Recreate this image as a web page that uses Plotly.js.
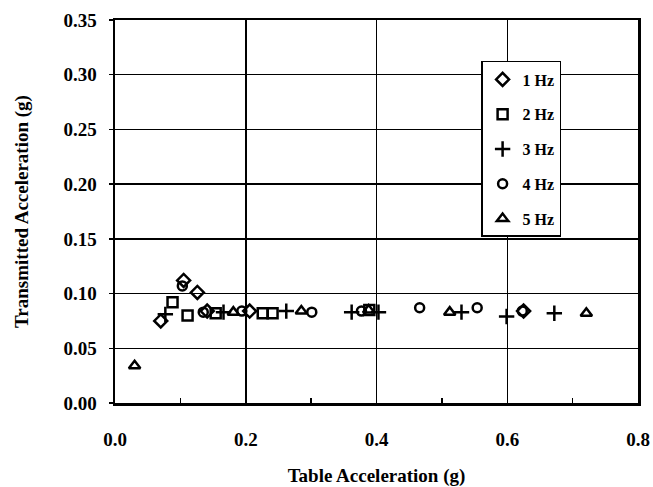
<!DOCTYPE html>
<html>
<head>
<meta charset="utf-8">
<script src="https://cdn.plot.ly/plotly-3.0.1.min.js"></script>
<style>
  html, body { margin: 0; padding: 0; background: #ffffff; }
  #chart { width: 653px; height: 487px; }
</style>
</head>
<body>
<div id="chart"></div>
<script>
// Transmitted vs. table acceleration, one series per excitation frequency
const seriesNames = ["1 Hz", "2 Hz", "3 Hz", "4 Hz", "5 Hz"];

const hz1X = [0.070, 0.105, 0.126, 0.141, 0.206, 0.625];
const hz1Y = [0.075, 0.112, 0.101, 0.084, 0.084, 0.084];

const hz2X = [0.088, 0.111, 0.154, 0.226, 0.241, 0.389];
const hz2Y = [0.092, 0.080, 0.082, 0.082, 0.082, 0.085];

const hz3X = [0.077, 0.166, 0.262, 0.362, 0.403, 0.530, 0.599, 0.672];
const hz3Y = [0.081, 0.083, 0.084, 0.083, 0.083, 0.083, 0.079, 0.082];

const hz4X = [0.103, 0.135, 0.194, 0.301, 0.377, 0.466, 0.554, 0.623];
const hz4Y = [0.107, 0.083, 0.084, 0.083, 0.084, 0.087, 0.087, 0.084];

const hz5X = [0.030, 0.181, 0.285, 0.388, 0.512, 0.721];
const hz5Y = [0.034, 0.083, 0.084, 0.085, 0.083, 0.082];

const xTickVals = [0.0, 0.2, 0.4, 0.6, 0.8];
const xTickText = ["0.0", "0.2", "0.4", "0.6", "0.8"];
const yTickVals = [0.00, 0.05, 0.10, 0.15, 0.20, 0.25, 0.30, 0.35];
const yTickText = ["0.00", "0.05", "0.10", "0.15", "0.20", "0.25", "0.30", "0.35"];

const serif = "'Liberation Serif', 'Times New Roman', serif";

const xs = [hz1X, hz2X, hz3X, hz4X, hz5X];
const ys = [hz1Y, hz2Y, hz3Y, hz4Y, hz5Y];
const symbols = ["diamond-open", "square-open", "cross-thin-open", "circle-open", "triangle-up-open"];
const sizes = [10, 10, 11, 9, 10];

const traces = seriesNames.map((name, i) => ({
  type: "scatter",
  mode: "markers",
  name: name,
  legendgroup: "g" + i,
  x: xs[i],
  y: ys[i],
  marker: {
    symbol: symbols[i],
    size: sizes[i],
    color: "#000000",
    line: { color: "#000000", width: 2.5 }
  },
  hoverinfo: "x+y+name"
}));

const layout = {
  width: 653,
  height: 487,
  margin: { l: 115, r: 15, t: 20, b: 84 },
  paper_bgcolor: "#ffffff",
  plot_bgcolor: "#ffffff",
  font: { family: serif, color: "#000000", size: 18, weight: "bold" },
  showlegend: true,
  legend: {
    x: 0.70, xanchor: "left",
    y: 0.893, yanchor: "top",
    bgcolor: "#ffffff",
    bordercolor: "#000000",
    borderwidth: 1.5,
    traceorder: "grouped",
    tracegroupgap: 11,
    itemwidth: 30,
    font: { family: serif, size: 16, weight: "bold", color: "#000000" }
  },
  xaxis: {
    range: [0, 0.8],
    tickvals: xTickVals,
    ticktext: xTickText,
    ticks: "inside",
    ticklen: 6,
    tickwidth: 1.5,
    tickcolor: "#000000",
    minor: { ticks: "inside", dtick: 0.1, ticklen: 5, tickwidth: 1.5, tickcolor: "#000000", showgrid: false },
    ticklabelstandoff: 18,
    showgrid: true,
    gridcolor: "#000000",
    gridwidth: 1.5,
    zeroline: false,
    showline: true,
    mirror: true,
    linecolor: "#000000",
    linewidth: 2.5,
    tickfont: { family: serif, size: 19, weight: "bold", color: "#000000" },
    title: {
      text: "Table Acceleration (g)",
      standoff: 24,
      font: { family: serif, size: 19, weight: "bold", color: "#000000" }
    }
  },
  yaxis: {
    range: [0, 0.35],
    tickvals: yTickVals,
    ticktext: yTickText,
    ticks: "outside",
    ticklen: 4,
    tickwidth: 1.5,
    tickcolor: "#000000",
    ticklabelstandoff: 8,
    showgrid: true,
    gridcolor: "#000000",
    gridwidth: 1.5,
    zeroline: false,
    showline: true,
    mirror: true,
    linecolor: "#000000",
    linewidth: 2.5,
    tickfont: { family: serif, size: 19, weight: "bold", color: "#000000" },
    title: {
      text: "Transmitted Acceleration (g)",
      standoff: 30,
      font: { family: serif, size: 19, weight: "bold", color: "#000000" }
    }
  }
};

Plotly.newPlot("chart", traces, layout, { displayModeBar: false, staticPlot: true });
</script>
</body>
</html>
